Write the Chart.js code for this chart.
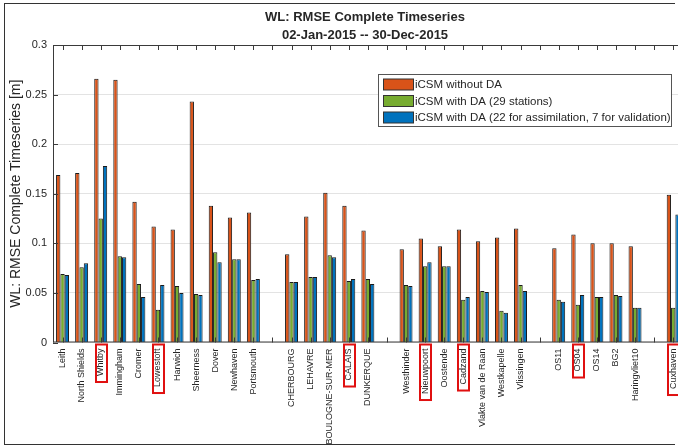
<!DOCTYPE html>
<html><head><meta charset="utf-8">
<script src="https://cdn.jsdelivr.net/npm/chart.js@4/dist/chart.umd.min.js"></script>
<style>
html,body{margin:0;padding:0;background:#fff;overflow:hidden;width:678px;height:446px}
#wrap{position:absolute;left:0;top:0;width:678px;height:446px;overflow:hidden}
#c{display:block;width:690px;height:446px}
#frame{position:absolute;left:4px;top:3px;width:670px;height:440px;border-left:1.5px solid #333;border-top:1.5px solid #333;border-bottom:1.5px solid #333;border-right:none;pointer-events:none}
</style></head>
<body>
<div id="wrap"><canvas id="c" width="690" height="446"></canvas><div id="frame"></div></div>
<script>
const titleLines = ['WL: RMSE Complete Timeseries', '02-Jan-2015 -- 30-Dec-2015'];
const yAxisTitle = 'WL: RMSE Complete Timeseries [m]';
const stations = ['Leith','North Shields','Whitby','Immingham','Cromer','Lowestoft','Harwich','Sheerness','Dover','Newhaven','Portsmouth','',
  'CHERBOURG','LEHAVRE','BOULOGNE-SUR-MER','CALAIS','DUNKERQUE','',
  'Westhinder','Nieuwpoort','Oostende','Cadzand','Vlakte van de Raan','Westkapelle','Vlissingen','',
  'OS11','OS04','OS14','BG2','Haringvliet10','','Cuxhaven'];
const highlighted = ['Whitby','Lowestoft','CALAIS','Nieuwpoort','Cadzand','OS04','Cuxhaven'];
const seriesNames = ['iCSM without DA','iCSM with DA (29 stations)','iCSM with DA (22 for assimilation, 7 for validation)'];
const noDA = [0.169,0.171,0.266,0.265,0.142,0.117,0.114,0.243,0.138,0.126,0.131,null,
  0.089,0.127,0.151,0.138,0.113,null,
  0.094,0.105,0.097,0.114,0.102,0.106,0.115,null,
  0.095,0.109,0.100,0.100,0.097,null,0.149];
const da29 = [0.069,0.076,0.125,0.087,0.059,0.033,0.057,0.049,0.091,0.084,0.063,null,
  0.061,0.066,0.088,0.062,0.064,null,
  0.058,0.077,0.077,0.043,0.052,0.032,0.058,null,
  0.043,0.038,0.046,0.048,0.035,null,0.035];
const da22 = [0.068,0.080,0.178,0.086,0.046,0.058,0.050,0.048,0.081,0.084,0.064,null,
  0.061,0.066,0.086,0.064,0.059,null,
  0.057,0.081,0.077,0.046,0.051,0.030,0.052,null,
  0.041,0.048,0.046,0.047,0.035,null,0.129];
const yTickLabels = ['0','0.05','0.1','0.15','0.2','0.25','0.3'];
const colors = ['#D95319','#77AC30','#0072BD'];

const FONT = '"Liberation Sans", Arial, sans-serif';
const TXT = '#262626';
const AX = '#3a3a3a';
const XFONT = 9;

const overlay = {
  id: 'overlay',
  afterDraw(chart) {
    const ctx = chart.ctx, a = chart.chartArea;
    const xs = chart.scales.x, ys = chart.scales.y;
    ctx.save();
    ctx.strokeStyle = AX; ctx.lineWidth = 1;
    ctx.beginPath();
    ctx.moveTo(a.left + 0.5, a.top + 0.5); ctx.lineTo(a.right, a.top + 0.5);
    ctx.moveTo(a.left + 0.5, a.top); ctx.lineTo(a.left + 0.5, a.bottom);
    ctx.moveTo(a.left, a.bottom - 0.5); ctx.lineTo(a.right, a.bottom - 0.5);
    ctx.stroke();
    ctx.beginPath();
    stations.forEach((s, i) => {
      const x = Math.round(xs.getPixelForValue(i)) + 0.5;
      ctx.moveTo(x, a.top); ctx.lineTo(x, a.top + 5);
      ctx.moveTo(x, a.bottom); ctx.lineTo(x, a.bottom - 5);
    });
    yTickLabels.forEach((t, i) => {
      const y = Math.round(ys.getPixelForValue(i * 0.05)) + 0.5;
      ctx.moveTo(a.left, y); ctx.lineTo(a.left + 5, y);
    });
    ctx.stroke();
    ctx.font = XFONT + 'px ' + FONT;
    ctx.strokeStyle = '#E01010'; ctx.lineWidth = 2;
    stations.forEach((s, i) => {
      if (!highlighted.includes(s)) return;
      const x = xs.getPixelForValue(i);
      const w = ctx.measureText(s).width;
      ctx.strokeRect(Math.round(x) - 5, a.bottom + 2, 11, 7 + w + 3);
    });
    ctx.fillStyle = TXT;
    ctx.textAlign = 'center'; ctx.textBaseline = 'middle';
    ctx.font = 'bold 13px ' + FONT;
    const cx = 365;
    ctx.fillText(titleLines[0], cx, 17);
    ctx.fillText(titleLines[1], cx, 35);
    ctx.save();
    ctx.translate(16, (a.top + a.bottom) / 2);
    ctx.rotate(-Math.PI / 2);
    ctx.font = '14px ' + FONT;
    ctx.fillText(yAxisTitle, 0, 0);
    ctx.restore();
    const lx = 378, ly = 74, lw = 293, lh = 52;
    ctx.fillStyle = '#fff';
    ctx.fillRect(lx, ly, lw, lh);
    ctx.strokeStyle = '#555'; ctx.lineWidth = 1;
    ctx.strokeRect(lx + 0.5, ly + 0.5, lw, lh);
    ctx.font = '11.5px ' + FONT;
    ctx.textAlign = 'left';
    chart.data.datasets.forEach((ds, i) => {
      const cy = ly + 10.5 + i * 16.5;
      ctx.fillStyle = ds.backgroundColor;
      ctx.fillRect(lx + 5, cy - 5.5, 30, 11);
      ctx.strokeStyle = '#333';
      ctx.strokeRect(lx + 5.5, cy - 5.5, 30, 11);
      ctx.fillStyle = TXT;
      ctx.fillText(ds.label, lx + 37, cy + 0.5);
    });
    ctx.restore();
  }
};

new Chart(document.getElementById('c'), {
  type: 'bar',
  data: {
    labels: stations,
    datasets: [noDA, da29, da22].map((d, i) => ({
      label: seriesNames[i], data: d,
      backgroundColor: colors[i], borderColor: '#1a1a1a', borderWidth: 1,
      categoryPercentage: 0.68, barPercentage: 1.0
    }))
  },
  options: {
    responsive: false, animation: false, devicePixelRatio: 1,
    layout: { padding: { top: 45, left: 0, right: 0, bottom: 0 } },
    plugins: { legend: { display: false }, title: { display: false }, tooltip: { enabled: false } },
    scales: {
      x: {
        type: 'category', offset: true,
        grid: { display: false, drawTicks: false },
        border: { display: false },
        ticks: { autoSkip: false, minRotation: 90, maxRotation: 90, padding: 6,
          color: TXT, font: { family: FONT, size: XFONT } },
        afterFit: s => { s.height = 103.5; }
      },
      y: {
        min: 0, max: 0.3,
        grid: { color: '#e3e3e3', drawTicks: false },
        border: { display: false },
        ticks: { stepSize: 0.05, padding: 6, color: TXT, font: { family: FONT, size: 11 },
          callback: (v, i) => yTickLabels[i] },
        afterFit: s => { s.width = 53; }
      }
    }
  },
  plugins: [overlay]
});
</script>
</body></html>
